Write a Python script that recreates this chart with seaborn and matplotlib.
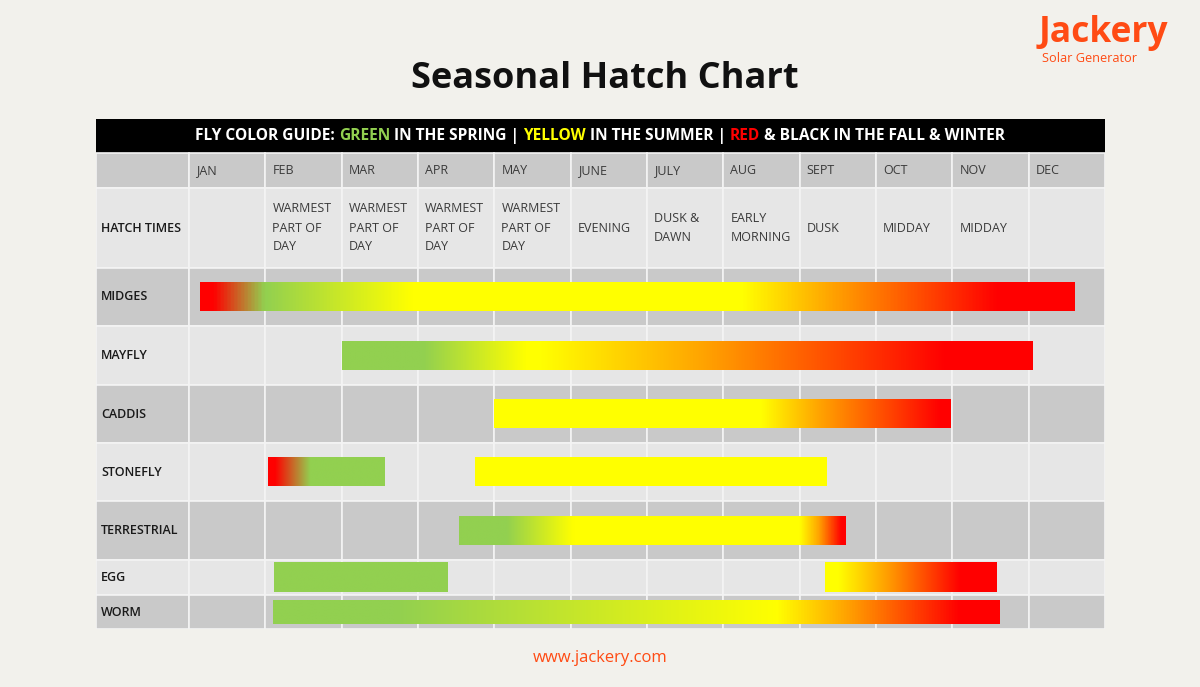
import numpy as np
import matplotlib
matplotlib.use("Agg")
import matplotlib.pyplot as plt
import seaborn as sns
from matplotlib.colors import LinearSegmentedColormap
from matplotlib.patches import Rectangle

# ---------------- data ----------------
months = ["JAN", "FEB", "MAR", "APR", "MAY", "JUNE", "JULY", "AUG", "SEPT", "OCT", "NOV", "DEC"]
hatch_times = ["", "WARMEST\nPART OF\nDAY", "WARMEST\nPART OF\nDAY", "WARMEST\nPART OF\nDAY",
               "WARMEST\nPART OF\nDAY", "EVENING", "DUSK &\nDAWN", "EARLY\nMORNING", "DUSK",
               "MIDDAY", "MIDDAY", ""]
insects = ["MIDGES", "MAYFLY", "CADDIS", "STONEFLY", "TERRESTRIAL", "EGG", "WORM"]

# bars (month units, 0 = start of January)
bar_insect = ["MIDGES", "MAYFLY", "CADDIS", "STONEFLY", "STONEFLY", "TERRESTRIAL", "EGG", "EGG", "WORM"]
bar_start = [0.14, 2.0, 4.0, 1.03, 3.75, 3.54, 1.11, 8.33, 1.10]
bar_end = [11.6, 11.04, 9.98, 2.55, 8.36, 8.60, 3.38, 10.58, 10.62]
# colour stops along each bar (month position, colour)
bar_stops = [
    [(0.14, "red"), (0.30, "red"), (0.97, "green"), (2.9, "yellow"), (7.25, "yellow"), (8.4, "orange"), (10.6, "red"), (11.6, "red")],
    [(2.0, "green"), (3.06, "green"), (4.4, "yellow"), (4.6, "yellow"), (6.7, "orange"), (9.9, "red"), (11.04, "red")],
    [(4.0, "yellow"), (7.5, "yellow"), (8.25, "orange"), (9.85, "red"), (9.98, "red")],
    [(1.03, "red"), (1.12, "red"), (1.58, "green"), (2.55, "green")],
    [(3.75, "yellow"), (8.36, "yellow")],
    [(3.54, "green"), (4.16, "green"), (5.03, "yellow"), (8.0, "yellow"), (8.25, "orange"), (8.55, "red"), (8.6, "red")],
    [(1.11, "green"), (3.38, "green")],
    [(8.33, "yellow"), (8.5, "yellow"), (9.1, "orange"), (10.1, "red"), (10.58, "red")],
    [(1.10, "green"), (2.7, "green"), (7.7, "yellow"), (8.6, "orange"), (10.1, "red"), (10.62, "red")],
]

# ---------------- style ----------------
COL = {"green": "#92D050", "yellow": "#FFFF00", "orange": "#FFA500", "red": "#FF0000"}
BG = "#F2F1EC"
DARK = "#C9C9C9"
LIGHT = "#E6E6E6"
LINE = "#F4F4F4"
BRAND = "#FF4B14"
FONT = ["Open Sans", "DejaVu Sans"]

sns.set_theme(style="white")
plt.rcParams["font.family"] = FONT

W, H = 1200, 687
fig = plt.figure(figsize=(W / 100, H / 100), dpi=100, facecolor=BG)

# table area in pixels
tx0, tx1, ty0, ty1 = 96, 1105, 119, 629
ax = fig.add_axes([tx0 / W, 1 - ty1 / H, (tx1 - tx0) / W, (ty1 - ty0) / H])
ax.set_facecolor(BG)
month_w = (tx1 - 189) / 12.0          # px per month
label_w = (189 - tx0) / month_w       # label column width in months
x_left = -label_w

# row layout (px heights)
row_names = ["header", "months", "hatch"] + insects
row_h = [34, 35, 80, 58, 59, 58, 58, 59, 35, 34]
row_top = np.concatenate([[0], np.cumsum(row_h)[:-1]])
row_fill = [None, DARK, LIGHT, DARK, LIGHT, DARK, LIGHT, DARK, LIGHT, DARK]
bar_thick = {"MIDGES": 29, "MAYFLY": 29, "CADDIS": 29, "STONEFLY": 29, "TERRESTRIAL": 29, "EGG": 30, "WORM": 24}

# cells
for i, (top, h, fill) in enumerate(zip(row_top, row_h, row_fill)):
    if i == 0:
        ax.add_patch(Rectangle((x_left, top), 12 - x_left, h, facecolor="black", edgecolor="none", zorder=1))
        continue
    ax.add_patch(Rectangle((x_left, top), label_w, h, facecolor=fill, edgecolor=LINE, lw=1.2, zorder=1))
    for m in range(12):
        ax.add_patch(Rectangle((m, top), 1, h, facecolor=fill, edgecolor=LINE, lw=1.2, zorder=1))

# month labels & hatch times
pad = 7 / month_w
for m, name in enumerate(months):
    ax.text(m + pad, row_top[1] + row_h[1] / 2, name, ha="left", va="center", fontsize=9, color="#3a3a3a", zorder=3)
    if hatch_times[m]:
        ax.text(m + pad, row_top[2] + row_h[2] / 2, hatch_times[m], ha="left", va="center",
                fontsize=9, color="#3a3a3a", linespacing=1.6, zorder=3)

lab_x = x_left + 5 / month_w
ax.text(lab_x, row_top[2] + row_h[2] / 2, "HATCH TIMES", ha="left", va="center", fontsize=9,
        fontweight="semibold", color="#1a1a1a", zorder=3)
for k, ins in enumerate(insects):
    r = 3 + k
    ax.text(lab_x, row_top[r] + row_h[r] / 2, ins, ha="left", va="center", fontsize=9,
            fontweight="semibold", color="#1a1a1a", zorder=3)

# gradient bars
for ins, s, e, stops in zip(bar_insect, bar_start, bar_end, bar_stops):
    r = row_names.index(ins)
    yc = row_top[r] + row_h[r] / 2
    th = bar_thick[ins]
    cl = [((p - s) / (e - s), COL[c]) for p, c in stops]
    cl[0] = (0.0, cl[0][1])
    cl[-1] = (1.0, cl[-1][1])
    cmap = LinearSegmentedColormap.from_list(ins, cl)
    grad = np.linspace(0, 1, 512).reshape(1, -1)
    ax.imshow(grad, cmap=cmap, aspect="auto", interpolation="bilinear",
              extent=(s, e, yc + th / 2, yc - th / 2), zorder=2)

ax.set_xlim(x_left, 12)
ax.set_ylim(sum(row_h), 0)
ax.set_axis_off()

# header text, multicoloured
fig.canvas.draw()
renderer = fig.canvas.get_renderer()
pieces = [("FLY COLOR GUIDE: ", "white"), ("GREEN", COL["green"]), (" IN THE SPRING | ", "white"),
          ("YELLOW", COL["yellow"]), (" IN THE SUMMER | ", "white"), ("RED", COL["red"]),
          (" & BLACK IN THE FALL & WINTER", "white")]
hy = 1 - (ty0 + row_h[0] / 2) / H
kw = dict(fontsize=11.2, fontweight="bold", va="center", ha="left")
widths = []
for s_, c_ in pieces:
    t = fig.text(0, hy, s_, color=c_, **kw)
    widths.append(t.get_window_extent(renderer).width / W)
    t.remove()
x = 0.5 - sum(widths) / 2
for (s_, c_), w_ in zip(pieces, widths):
    fig.text(x, hy, s_, color=c_, **kw)
    x += w_

# title, logo, footer
fig.text(0.504, 1 - 79 / H, "Seasonal Hatch Chart", ha="center", va="center", fontsize=26,
         fontweight="bold", color="#111111")
fig.text(1039 / W, 1 - 42 / H, "Jackery", ha="left", va="baseline", fontsize=25.5, fontweight="bold", color=BRAND)
fig.text(1042 / W, 1 - 58 / H, "Solar Generator", ha="left", va="center", fontsize=9.2, color=BRAND)
fig.text(0.5, 1 - 658 / H, "www.jackery.com", ha="center", va="center", fontsize=12, color=BRAND)

fig.savefig("out.png", dpi=100, facecolor=BG)
